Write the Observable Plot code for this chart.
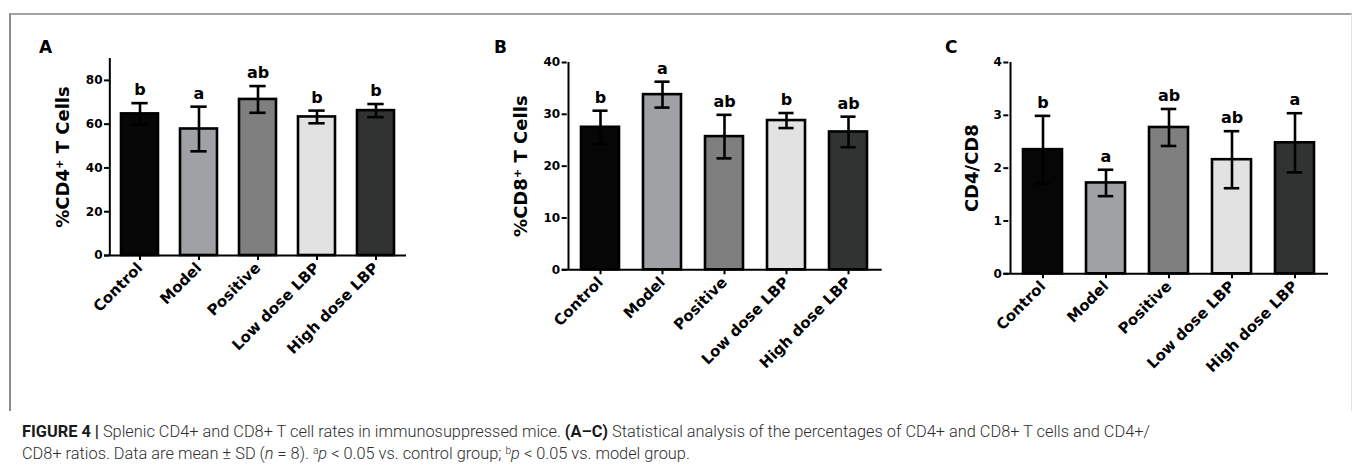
<!DOCTYPE html>
<html><head><meta charset="utf-8">
<script src="https://cdn.jsdelivr.net/npm/d3@7"></script>
<script src="https://cdn.jsdelivr.net/npm/@observablehq/plot@0.6"></script>
<style>
body{margin:0;background:#fff;}
#fig{position:relative;width:1355px;height:470px;overflow:hidden;background:#fff;}
#box{position:absolute;left:9px;top:13px;width:1343px;height:398px;border-top:2px solid #a3a3a3;border-left:2px solid #8c8c8c;border-right:1px solid #e4e4e4;box-sizing:border-box;}
.panel{position:absolute;top:0;}
.plabel{position:absolute;font:bold 17px/17px "DejaVu Sans";color:#000;}
.cap{position:absolute;left:22px;white-space:nowrap;font:300 16px/16px Roboto,"Liberation Sans",sans-serif;color:#2e2e2e;transform-origin:0 0;}
.cap b{color:#1a1a1a;font-weight:700;}
</style></head>
<body>
<div id="fig">
  <div id="box"></div>
  <div class="plabel" style="left:39px;top:39px">A</div>
  <div class="plabel" style="left:494px;top:39px">B</div>
  <div class="plabel" style="left:945px;top:39px">C</div>
  <div id="p0" class="panel" style="left:0px"></div>
  <div id="p1" class="panel" style="left:450px"></div>
  <div id="p2" class="panel" style="left:900px"></div>
  <div id="c1" class="cap" style="top:423.8px"><b>FIGURE 4</b> <b>|</b> Splenic CD4+ and CD8+ T cell rates in immunosuppressed mice. <b>(A–C)</b> Statistical analysis of the percentages of CD4+ and CD8+ T cells and CD4+/</div>
  <div id="c2" class="cap" style="top:443.2px">CD8+ ratios. Data are mean ± SD (<i>n</i> = 8). <sup style="font-size:10px;vertical-align:5px">a</sup><i>p</i> &lt; 0.05 vs. control group; <sup style="font-size:10px;vertical-align:5px">b</sup><i>p</i> &lt; 0.05 vs. model group.</div>
</div>
<script>
// ---- data ----
const categories = ["Control", "Model", "Positive", "Low dose LBP", "High dose LBP"];
const barColors = ["#060606", "#a0a1a4", "#7f7f7f", "#e2e2e2", "#313232"];

const cd4Mean = [64.7, 57.8, 71.3, 63.3, 66.2];
const cd4Sd = [4.9, 10.2, 6.1, 2.9, 3.0];
const cd4Letters = ["b", "a", "ab", "b", "b"];
const cd4Ticks = [0, 20, 40, 60, 80];
const cd4Label = "%CD4\u207A T Cells";

const cd8Mean = [27.5, 33.8, 25.7, 28.8, 26.6];
const cd8Sd = [3.2, 2.5, 4.2, 1.45, 2.95];
const cd8Letters = ["b", "a", "ab", "b", "ab"];
const cd8Ticks = [0, 10, 20, 30, 40];
const cd8Label = "%CD8\u207A T Cells";

const ratioMean = [2.35, 1.72, 2.77, 2.16, 2.48];
const ratioSd = [0.64, 0.25, 0.35, 0.54, 0.56];
const ratioLetters = ["b", "a", "ab", "ab", "a"];
const ratioTicks = [0, 1, 2, 3, 4];
const ratioLabel = "CD4/CD8";

function panel(o) {
  const data = categories.map((c, i) => ({
    cat: c, mean: o.mean[i], lo: o.mean[i] - o.sd[i], hi: o.mean[i] + o.sd[i],
    letter: o.letters[i], color: barColors[i]
  }));
  const pi = 0.38, po = 0.2;
  const fw = o.frameRight - o.frameLeft;
  const step = fw / (categories.length - pi + 2 * po);
  const bw = step * (1 - pi);
  const capInset = (bw - 16) / 2;
  const toFirstCenter = step * po + bw / 2;
  const ymax = o.ticks[o.ticks.length - 1] * (o.ymaxFactor || 1);
  return Plot.plot({
    width: o.width, height: o.height,
    marginLeft: o.frameLeft, marginRight: o.width - o.frameRight,
    marginTop: o.top, marginBottom: o.height - o.bottom,
    style: "font-family:'DejaVu Sans';font-weight:bold;background:transparent;overflow:visible;max-width:none;color:#000;",
    x: {domain: categories, paddingInner: pi, paddingOuter: po},
    y: {domain: [0, ymax]},
    color: {type: "identity"},
    marks: [
      Plot.barY(data, {x: "cat", y: "mean", fill: "color", stroke: "#000", strokeWidth: 2.6}),
      Plot.ruleX(data, {x: "cat", y1: "lo", y2: "hi", stroke: "#000", strokeWidth: 2.6}),
      Plot.tickY(data, {x: "cat", y: "hi", stroke: "#000", strokeWidth: 2.6, insetLeft: capInset, insetRight: capInset}),
      Plot.tickY(data, {x: "cat", y: "lo", stroke: "#000", strokeWidth: 2.6, insetLeft: capInset, insetRight: capInset}),
      Plot.text(data, {x: "cat", y: "hi", text: "letter", dy: -8, lineAnchor: "bottom", fontSize: 16, fontWeight: "bold", fill: "#000"}),
      Plot.ruleY([0], {insetLeft: -5, stroke: "#000", strokeWidth: 2}),
      Plot.ruleX([categories[0]], {x: d => d, y1: 0, y2: ymax, dx: -toFirstCenter, stroke: "#000", strokeWidth: 2}),
      Plot.axisY({ticks: o.ticks, tickFormat: d => String(d), tickSize: 5, tickPadding: 2, fontSize: 12, strokeWidth: 2, label: null}),
      Plot.axisX({tickSize: 5, tickRotate: -45, fontSize: 15, tickPadding: 5, strokeWidth: 2, label: null}),
      Plot.text([o.label], {text: d => d, frameAnchor: "left", textAnchor: "middle", lineAnchor: "middle", rotate: -90, dx: o.labelDx, fontSize: 18, fontWeight: "bold", fill: "#000"})
    ]
  });
}

document.getElementById("p0").append(panel({
  width: 450, height: 360, frameLeft: 109, frameRight: 406, top: 58, bottom: 255,
  ticks: cd4Ticks, ymaxFactor: 90 / 80, mean: cd4Mean, sd: cd4Sd, letters: cd4Letters,
  label: cd4Label, labelDx: -46
}));
document.getElementById("p1").append(panel({
  width: 450, height: 360, frameLeft: 116.7, frameRight: 431.7, top: 62, bottom: 269.3,
  ticks: cd8Ticks, mean: cd8Mean, sd: cd8Sd, letters: cd8Letters,
  label: cd8Label, labelDx: -45.5
}));
document.getElementById("p2").append(panel({
  width: 455, height: 360, frameLeft: 108.3, frameRight: 428, top: 62, bottom: 273.3,
  ticks: ratioTicks, mean: ratioMean, sd: ratioSd, letters: ratioLetters,
  label: ratioLabel, labelDx: -37
}));

// fit caption width to the reference line length
const c1 = document.getElementById("c1"), c2 = document.getElementById("c2");
const w1 = c1.getBoundingClientRect().width;
const s = 1128 / w1;
c1.style.transform = `scaleX(${s})`;
c2.style.transform = `scaleX(${s})`;
</script>
</body></html>
